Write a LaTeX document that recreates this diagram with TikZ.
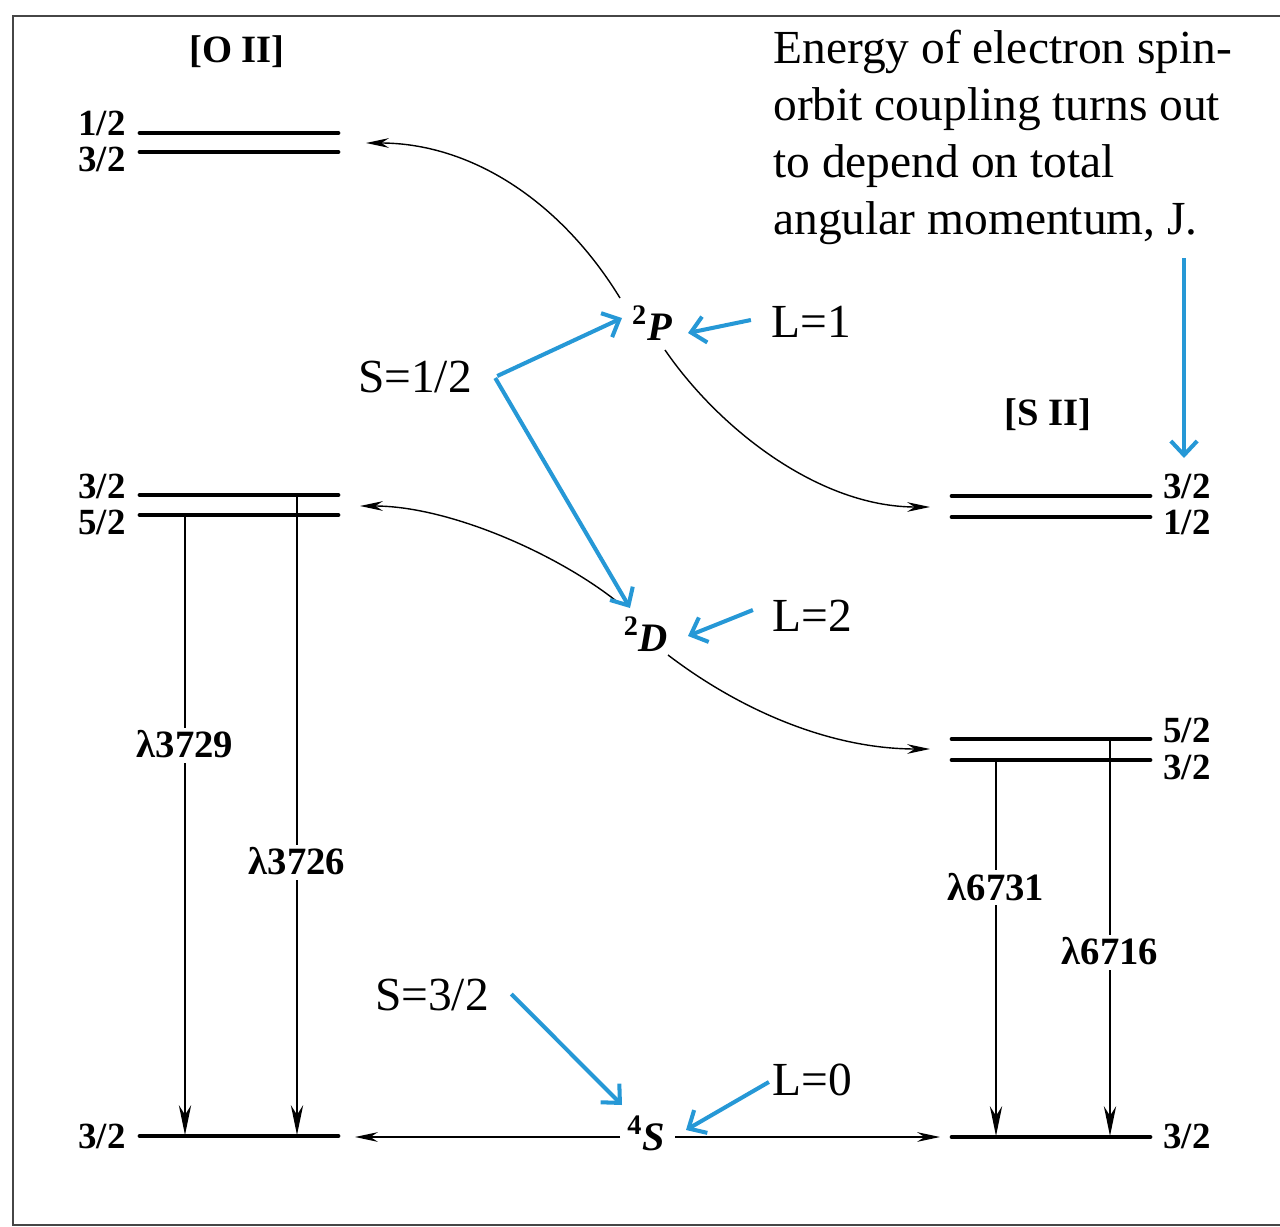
\documentclass[tikz,border=0pt]{standalone}
\usepackage{fontspec}
\setmainfont{Liberation Serif}
\usetikzlibrary{arrows.meta,calc}
\definecolor{annblue}{RGB}{38,152,214}
\definecolor{framegray}{RGB}{70,70,70}
\begin{document}
\begin{tikzpicture}[x=0.2mm,y=-0.2mm,
  level/.style={line width=2.7pt, line cap=round},
  lbl/.style={font=\fontsize{21}{23}\selectfont\bfseries, inner sep=0pt, text height=14pt, text depth=0pt},
  term/.style={font=\fontsize{23}{25}\selectfont\bfseries, inner sep=1pt},
  big/.style={font=\fontsize{27}{32.4}\selectfont, inner sep=0pt},
  trans/.style={line width=0.9pt, -{Stealth[length=17pt,width=7pt]}},
  curv/.style={line width=0.8pt, -{Stealth[length=13pt,width=5.5pt]}},
  wl/.style={lbl, font=\fontsize{22}{24}\selectfont\bfseries, fill=white, inner sep=3pt},
  barrow/.style={annblue, line width=2.3pt, -{Straight Barb[length=8pt,width=15pt]}},
]
\useasboundingbox (0,0) rectangle (1280,1227);
% frame
\draw[framegray, line width=1.4pt] (1280,16) -- (13,16) -- (13,1225) -- (1280,1225);

% ---------- [O II] levels ----------
\node[lbl, font=\fontsize{22}{24}\selectfont\bfseries, text depth=4pt] (OII) at (237,54) {[O II]};
\draw[level] (140,133) -- (338,133);
\draw[level] (140,152) -- (338,152);
\node[lbl, anchor=east] (o1) at (126,123) {1/2};
\node[lbl, anchor=east] (o2) at (126,159) {3/2};
\draw[level] (140,495) -- (338,495);
\draw[level] (140,515) -- (338,515);
\node[lbl, anchor=east] (o3) at (126,486) {3/2};
\node[lbl, anchor=east] (o4) at (126,522) {5/2};
\draw[level] (140,1136) -- (338,1136);
\node[lbl, anchor=east] (o5) at (126,1136) {3/2};

\coordinate (oa) at (185,515);
\coordinate (oab) at (185,1135);
\coordinate (ob) at (297,495);
\coordinate (obb) at (297,1135);
\draw[trans] (oa) -- node[wl, pos=0.372] {λ3729} (oab);
\draw[trans] (ob) -- node[wl, pos=0.574] {λ3726} (obb);

% ---------- [S II] levels ----------
\node[lbl, font=\fontsize{22}{24}\selectfont\bfseries, text depth=4pt] (SII) at (1048,417) {[S II]};
\draw[level] (952,496) -- (1150,496);
\draw[level] (952,517) -- (1150,517);
\node[lbl, anchor=west] (s1) at (1163,486) {3/2};
\node[lbl, anchor=west] (s2) at (1163,522) {1/2};
\draw[level] (952,739) -- (1150,739);
\draw[level] (952,760) -- (1150,760);
\node[lbl, anchor=west] (s3) at (1163,730) {5/2};
\node[lbl, anchor=west] (s4) at (1163,767) {3/2};
\draw[level] (952,1137) -- (1150,1137);
\node[lbl, anchor=west] (s5) at (1163,1136) {3/2};

\coordinate (sa) at (996,760);
\coordinate (sab) at (996,1136);
\coordinate (sb) at (1110,739);
\coordinate (sbb) at (1110,1136);
\draw[trans] (sa) -- node[wl, pos=0.34] {λ6731} (sab);
\draw[trans] (sb) -- node[wl, pos=0.538] {λ6716} (sbb);

% ---------- terms ----------
\node[term] (P) at (652,323) {\textsuperscript{2}\textit{P}};
\node[term] (D) at (646,634) {\textsuperscript{2}\textit{D}};
\node[term] (S) at (646,1133) {\textsuperscript{4}\textit{S}};

\coordinate (pO) at (366,143);
\coordinate (pS) at (930,507);
\coordinate (dO) at (360,506);
\coordinate (dS) at (930,749);
\coordinate (sO) at (355,1137);
\coordinate (sS) at (940,1137);

\draw[curv] ($(P)+(-32,-25)$) .. controls (560,200) and (470,143) .. (pO);
\draw[curv] ($(P)+(13,27)$) .. controls (720,430) and (820,507) .. (pS);
\draw[curv] ($(D)+(-26,-30)$) .. controls (560,555) and (450,506) .. (dO);
\draw[curv] ($(D)+(22,21)$) .. controls (740,710) and (830,749) .. (dS);
\draw[curv] ($(S)+(-26,4)$) -- (sO);
\draw[curv] ($(S)+(29,4)$) -- (sS);

% ---------- annotations ----------
\node[big, anchor=north west, align=left] (note) at (773,30)
  {Energy of electron spin-\\orbit coupling turns out\\to depend on total\\angular momentum, J.};
\node[big] (S12) at (415,377) {S=1/2};
\node[big] (L1) at (811,322) {L=1};
\node[big] (L2) at (812,616) {L=2};
\node[big] (S32) at (432,995) {S=3/2};
\node[big] (L0) at (812,1080) {L=0};

\coordinate (jt) at (1184,258);
\coordinate (jb) at (1184,458);
\draw[barrow] (jt) -- (jb);
\draw[barrow] ($(S12.east)+(25,-1)$) -- ($(P)+(-30,-5)$);
\draw[barrow] ($(S12.east)+(23,1)$) -- ($(D)+(-16,-26)$);
\draw[barrow] ($(L1.west)+(-20,-2)$) -- ($(P)+(36,10)$);
\draw[barrow] ($(L2.west)+(-19,-6)$) -- ($(D)+(42,2)$);
\draw[barrow] ($(S32.east)+(22,-1)$) -- ($(S)+(-24,-28)$);
\draw[barrow] ($(L0.west)+(-3,2)$) -- ($(S)+(40,-3)$);
\end{tikzpicture}
\end{document}
